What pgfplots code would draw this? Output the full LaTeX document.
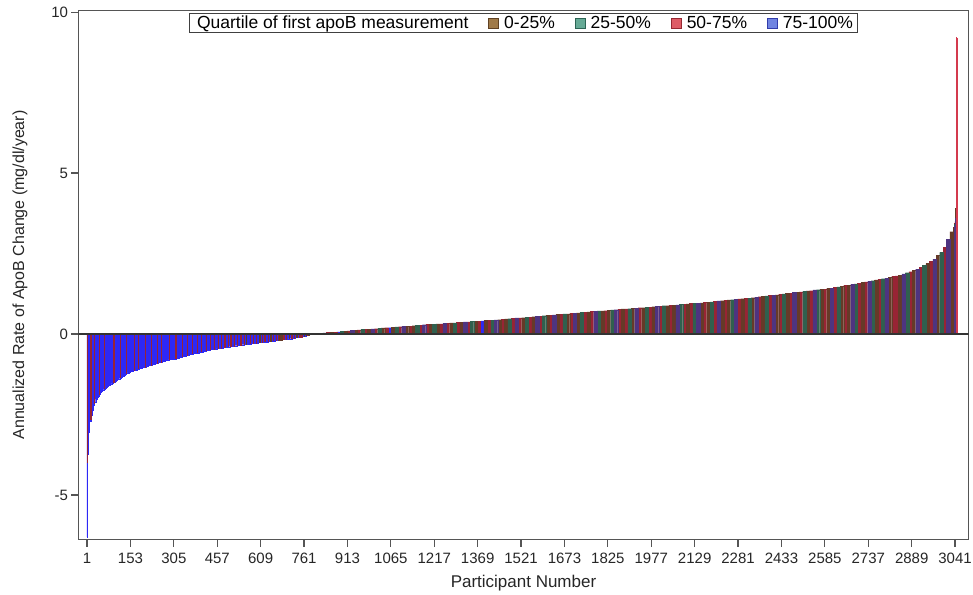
\documentclass[border=0pt]{standalone}
\usepackage{pgfplots}
\usepackage{pgfplotstable}
\pgfplotsset{compat=1.18}
\usepackage{fontspec}
\setmainfont{Liberation Sans}

\definecolor{cq1}{RGB}{102,58,40}
\definecolor{cq2}{RGB}{48,96,78}
\definecolor{cq3}{RGB}{152,36,52}
\definecolor{cq4}{RGB}{45,40,245}
\definecolor{cq5}{RGB}{78,52,128}
\definecolor{cq6}{RGB}{212,58,78}
\definecolor{lq1}{RGB}{160,122,72}
\definecolor{lq1d}{RGB}{95,65,35}
\definecolor{lq2}{RGB}{102,170,150}
\definecolor{lq2d}{RGB}{45,100,85}
\definecolor{lq3}{RGB}{222,92,102}
\definecolor{lq3d}{RGB}{150,40,50}
\definecolor{lq4}{RGB}{112,132,225}
\definecolor{lq4d}{RGB}{50,60,170}
\definecolor{axgray}{RGB}{85,85,85}

% participants 11-215, bins of 4: centre, change, quartile class
\pgfplotstableread{
p v q
13 -2.70 4
17 -2.50 4
21 -2.35 4
25 -2.20 4
29 -2.11 4
33 -2.02 4
37 -1.96 4
41 -1.91 4
45 -1.86 4
49 -1.81 4
53 -1.77 4
57 -1.74 4
61 -1.71 4
65 -1.67 4
69 -1.64 4
73 -1.62 4
77 -1.59 4
81 -1.57 4
85 -1.55 4
89 -1.53 4
93 -1.50 4
97 -1.48 4
101 -1.46 4
105 -1.44 4
109 -1.41 4
113 -1.39 4
117 -1.36 4
121 -1.34 4
125 -1.31 4
129 -1.29 4
133 -1.26 4
137 -1.24 4
141 -1.22 4
145 -1.20 4
149 -1.18 4
153 -1.16 4
157 -1.15 4
161 -1.14 4
165 -1.13 4
169 -1.12 4
173 -1.11 4
177 -1.09 4
181 -1.08 4
185 -1.07 4
189 -1.06 4
193 -1.05 4
197 -1.04 4
201 -1.03 4
205 -1.02 4
209 -1.00 4
213 -0.99 4
}\fine

% participants 215-3035, bins of 12
\pgfplotstableread{
p v q
221 -0.97 4
233 -0.94 4
245 -0.91 4
257 -0.88 4
269 -0.85 4
281 -0.82 4
293 -0.79 4
305 -0.77 4
317 -0.74 4
329 -0.71 4
341 -0.68 4
353 -0.65 4
365 -0.62 4
377 -0.60 4
389 -0.58 4
401 -0.55 4
413 -0.52 4
425 -0.50 4
437 -0.48 4
449 -0.46 4
461 -0.45 4
473 -0.43 4
485 -0.41 4
497 -0.39 4
509 -0.38 4
521 -0.36 4
533 -0.35 4
545 -0.33 4
557 -0.32 4
569 -0.31 4
581 -0.29 4
593 -0.28 4
605 -0.26 4
617 -0.25 4
629 -0.24 4
641 -0.22 4
653 -0.21 4
665 -0.19 4
677 -0.18 1
689 -0.17 4
701 -0.15 4
713 -0.14 4
725 -0.12 4
737 -0.10 4
749 -0.09 3
761 -0.07 4
773 -0.04 1
785 -0.01 3
797 0.01 1
809 0.02 3
821 0.03 2
833 0.04 5
845 0.05 3
857 0.06 1
869 0.06 3
881 0.07 4
893 0.08 2
905 0.09 1
917 0.10 3
929 0.11 5
941 0.12 1
953 0.13 3
965 0.14 2
977 0.14 3
989 0.15 1
1001 0.16 5
1013 0.17 3
1025 0.18 2
1037 0.19 1
1049 0.20 3
1061 0.20 4
1073 0.21 1
1085 0.22 2
1097 0.23 3
1109 0.24 5
1121 0.25 1
1133 0.25 3
1145 0.26 1
1157 0.27 2
1169 0.28 3
1181 0.29 5
1193 0.30 3
1205 0.30 1
1217 0.31 2
1229 0.32 1
1241 0.32 3
1253 0.33 5
1265 0.34 3
1277 0.35 1
1289 0.35 2
1301 0.36 3
1313 0.37 1
1325 0.38 5
1337 0.38 3
1349 0.39 2
1361 0.40 1
1373 0.40 3
1385 0.41 4
1397 0.42 1
1409 0.43 3
1421 0.43 2
1433 0.44 5
1445 0.45 1
1457 0.46 3
1469 0.47 1
1481 0.48 2
1493 0.49 3
1505 0.50 5
1517 0.50 3
1529 0.51 1
1541 0.52 2
1553 0.53 3
1565 0.54 1
1577 0.55 5
1589 0.56 3
1601 0.57 2
1613 0.58 1
1625 0.59 3
1637 0.60 5
1649 0.61 1
1661 0.62 3
1673 0.63 2
1685 0.63 1
1697 0.64 3
1709 0.65 5
1721 0.66 1
1733 0.67 2
1745 0.68 3
1757 0.69 1
1769 0.70 3
1781 0.71 5
1793 0.72 2
1805 0.72 1
1817 0.73 3
1829 0.74 1
1841 0.75 2
1853 0.76 5
1865 0.77 3
1877 0.78 1
1889 0.78 3
1901 0.79 2
1913 0.80 1
1925 0.81 5
1937 0.82 3
1949 0.82 1
1961 0.83 2
1973 0.84 3
1985 0.85 1
1997 0.86 5
2009 0.87 3
2021 0.88 2
2033 0.88 1
2045 0.89 3
2057 0.90 1
2069 0.91 5
2081 0.92 2
2093 0.93 3
2105 0.94 1
2117 0.95 3
2129 0.96 2
2141 0.96 5
2153 0.97 1
2165 0.98 3
2177 0.99 1
2189 1.00 2
2201 1.02 3
2213 1.03 5
2225 1.04 1
2237 1.05 3
2249 1.06 1
2261 1.07 2
2273 1.08 5
2285 1.09 3
2297 1.10 1
2309 1.11 3
2321 1.12 2
2333 1.13 1
2345 1.15 5
2357 1.16 3
2369 1.17 1
2381 1.19 2
2393 1.20 3
2405 1.21 5
2417 1.22 1
2429 1.24 3
2441 1.25 2
2453 1.26 1
2465 1.27 3
2477 1.29 5
2489 1.30 1
2501 1.31 3
2513 1.33 2
2525 1.34 1
2537 1.35 3
2549 1.37 5
2561 1.38 2
2573 1.39 1
2585 1.40 3
2597 1.42 1
2609 1.43 5
2621 1.45 3
2633 1.47 2
2645 1.49 1
2657 1.51 3
2669 1.52 1
2681 1.54 5
2693 1.56 2
2705 1.58 3
2717 1.60 1
2729 1.62 3
2741 1.64 5
2753 1.66 2
2765 1.68 1
2777 1.70 3
2789 1.72 2
2801 1.74 5
2813 1.77 1
2825 1.79 3
2837 1.81 3
2849 1.83 1
2861 1.87 5
2873 1.91 2
2885 1.94 3
2897 1.98 1
2909 2.02 5
2921 2.07 3
2933 2.13 2
2945 2.19 1
2957 2.26 3
2969 2.33 5
2981 2.44 1
2993 2.54 2
3005 2.70 3
3017 2.94 5
3029 3.18 1
}\bins

% single participants (both ends, and scattered bars of other quartiles among the negative changes)
\pgfplotstableread{
p v q
1 -6.30 4
2 -4.60 4
3 -4.00 3
4 -3.75 4
5 -3.40 4
6 -3.20 4
7 -3.05 4
8 -2.95 4
9 -2.88 4
10 -2.82 4
14 -2.65 3
27 -2.15 3
44 -1.87 3
62 -1.70 3
95 -1.49 3
118 -1.35 3
140 -1.22 3
166 -1.13 3
180 -1.08 3
205 -1.02 3
226 -0.96 3
248 -0.90 3
262 -0.87 3
290 -0.80 3
312 -0.75 3
334 -0.70 3
352 -0.65 3
371 -0.61 3
388 -0.58 3
402 -0.55 3
418 -0.51 3
433 -0.49 3
446 -0.47 3
460 -0.45 3
472 -0.43 3
484 -0.41 3
497 -0.39 3
505 -0.38 3
516 -0.37 3
528 -0.35 3
540 -0.34 3
551 -0.33 3
560 -0.32 1
572 -0.30 3
583 -0.29 3
594 -0.28 3
606 -0.26 1
615 -0.25 3
624 -0.24 3
636 -0.23 3
645 -0.22 1
654 -0.21 3
663 -0.19 3
672 -0.18 3
681 -0.17 1
690 -0.16 3
700 -0.15 3
709 -0.14 1
718 -0.13 3
727 -0.12 3
736 -0.10 1
745 -0.09 3
754 -0.08 3
763 -0.07 1
772 -0.05 3
781 -0.02 3
3036 3.25 3
3037 3.30 1
3038 3.35 5
3039 3.40 2
3040 3.45 3
3041 3.50 1
3042 3.60 5
3043 3.70 3
3044 3.90 1
3045 4.20 2
3046 4.90 3
3047 9.20 6
}\singles

\pgfplotsset{
  qbar/.style n args={3}{ybar, bar shift=0pt, bar width=#2, fill=#1, draw=#1, line width=#3, forget plot},
  lgsq/.style={legend image code/.code={\draw[##1, line width=0.8pt] (0pt,-5pt) rectangle (10pt,5pt);}},
}

\begin{document}
\begin{tikzpicture}
\begin{axis}[
  name=ax,
  scale only axis,
  width=890pt, height=529pt,
  xmin=-29, xmax=3088,
  ymin=-6.38, ymax=10.05,
  axis line style={axgray, line width=1.3pt},
  every tick/.style={axgray, line width=1.2pt},
  tick align=outside,
  major tick length=7pt,
  xtick pos=lower, ytick pos=left,
  xtick={1,153,305,457,609,761,913,1065,1217,1369,1521,1673,1825,1977,2129,2281,2433,2585,2737,2889,3041},
  ytick={-5,0,5,10},
  /pgf/number format/assume math mode=true,
  /pgf/number format/1000 sep={},
  ticklabel style={font=\fontsize{15}{18}\selectfont, text=black!85},
  xticklabel style={yshift=-3pt},
  xlabel={Participant Number},
  ylabel={Annualized Rate of ApoB Change (mg/dl/year)},
  every axis x label/.style={at={(axis description cs:0.5,-0.0822)}, anchor=center,
    font=\fontsize{17}{20}\selectfont, text=black!85},
  every axis y label/.style={at={(axis description cs:-0.0657,0.5)}, rotate=90, anchor=center,
    font=\fontsize{16}{19}\selectfont, text=black!85},
  legend columns=5,
  legend style={at={(axis description cs:0.5,0.995)}, anchor=north,
    font=\fontsize{17.5}{19}\selectfont, draw=black!75, line width=1pt,
    inner xsep=3pt, inner ysep=0.5pt,
    /tikz/every odd column/.append style={column sep=3pt},
    /tikz/every even column/.append style={column sep=18pt}},
  legend cell align=left,
]
% bars, one series per quartile class
\addplot[qbar={cq4}{4}{0.15pt}] table[x=p,y=v] {\fine};
\addplot[qbar={cq4}{12}{0.15pt}, restrict expr to domain={\thisrow{q}}{3.5:4.5}] table[x=p,y=v] {\bins};
\addplot[qbar={cq3}{12}{0.15pt}, restrict expr to domain={\thisrow{q}}{2.5:3.5}] table[x=p,y=v] {\bins};
\addplot[qbar={cq1}{12}{0.15pt}, restrict expr to domain={\thisrow{q}}{0.5:1.5}] table[x=p,y=v] {\bins};
\addplot[qbar={cq2}{12}{0.15pt}, restrict expr to domain={\thisrow{q}}{1.5:2.5}] table[x=p,y=v] {\bins};
\addplot[qbar={cq5}{12}{0.15pt}, restrict expr to domain={\thisrow{q}}{4.5:5.5}] table[x=p,y=v] {\bins};
\addplot[qbar={cq4}{1}{0.8pt}, restrict expr to domain={\thisrow{q}}{3.5:4.5}] table[x=p,y=v] {\singles};
\addplot[qbar={cq3}{1}{0.8pt}, restrict expr to domain={\thisrow{q}}{2.5:3.5}] table[x=p,y=v] {\singles};
\addplot[qbar={cq1}{1}{0.8pt}, restrict expr to domain={\thisrow{q}}{0.5:1.5}] table[x=p,y=v] {\singles};
\addplot[qbar={cq2}{1}{0.8pt}, restrict expr to domain={\thisrow{q}}{1.5:2.5}] table[x=p,y=v] {\singles};
\addplot[qbar={cq5}{1}{0.8pt}, restrict expr to domain={\thisrow{q}}{4.5:5.5}] table[x=p,y=v] {\singles};
\addplot[qbar={cq6}{1}{0.9pt}, restrict expr to domain={\thisrow{q}}{5.5:6.5}] table[x=p,y=v] {\singles};
% zero reference line
\addplot[black!80, line width=1.2pt, forget plot] coordinates {(-29,0) (3088,0)};
% legend
\addlegendimage{empty legend}\addlegendentry{Quartile of first apoB measurement}
\addlegendimage{lgsq, fill=lq1, draw=lq1d}\addlegendentry{0-25\%}
\addlegendimage{lgsq, fill=lq2, draw=lq2d}\addlegendentry{25-50\%}
\addlegendimage{lgsq, fill=lq3, draw=lq3d}\addlegendentry{50-75\%}
\addlegendimage{lgsq, fill=lq4, draw=lq4d}\addlegendentry{75-100\%}
\end{axis}
\pgfresetboundingbox
\path ([shift={(-78.5pt,-54.5pt)}]ax.south west) rectangle ([shift={(4.5pt,10.5pt)}]ax.north east);
\end{tikzpicture}
\end{document}
